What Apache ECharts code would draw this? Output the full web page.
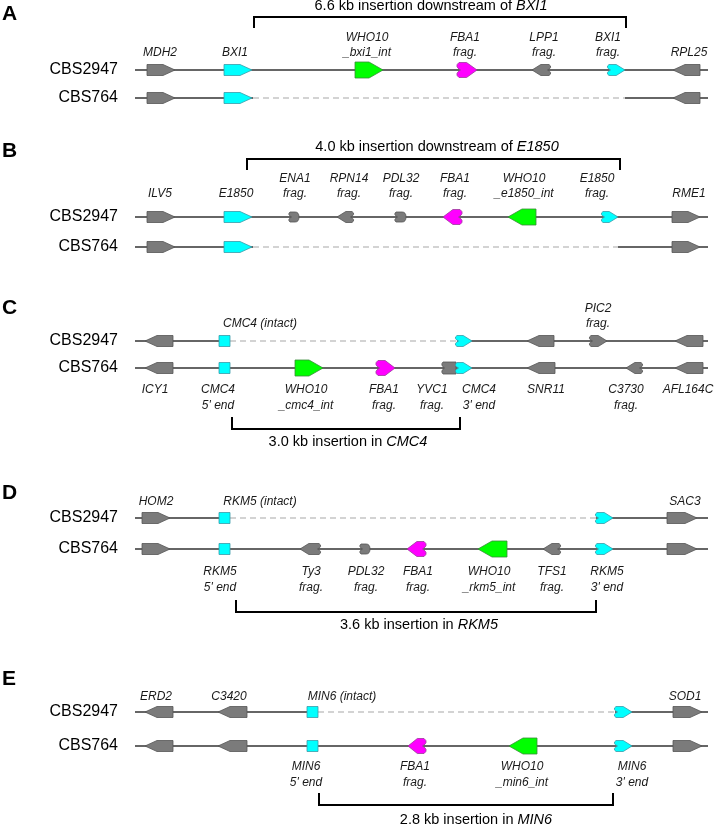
<!DOCTYPE html>
<html><head><meta charset="utf-8">
<script src="https://cdn.jsdelivr.net/npm/echarts@6/dist/echarts.min.js"></script>
<style>html,body{margin:0;padding:0;background:#fff}#c{width:715px;height:825px}</style>
</head><body><div id="c"></div>
<script>
// ---------------- DATA ----------------
const strains = ['CBS2947', 'CBS764'];
const panelLetters = ['A', 'B', 'C', 'D', 'E'];

// backbone segments: [row, start, end, dashed(1)/solid(0)]
const tracksA = [[0,135,708,0],[1,135,253,0],[1,253,625,1],[1,625,708,0]];
const tracksB = [[0,135,708,0],[1,135,253,0],[1,253,618,1],[1,618,708,0]];
const tracksC = [[0,135,219,0],[0,230,457,1],[0,457,708,0],[1,135,708,0]];
const tracksD = [[0,135,219,0],[0,230,596,1],[0,596,708,0],[1,135,708,0]];
const tracksE = [[0,135,307,0],[0,318,615,1],[0,615,708,0],[1,135,708,0]];

// features: [row, start, end, strand, kind, colour]
const genesA = [
  [0,147,175,1,'gene','grey'],[0,224,252,1,'gene','cyan'],[0,355,383,1,'int','green'],
  [0,458,477,1,'frag','magenta'],[0,532,550,-1,'frag','grey'],[0,608,625,1,'frag','cyan'],
  [0,673,700,-1,'gene','grey'],
  [1,147,175,1,'gene','grey'],[1,224,252,1,'gene','cyan'],[1,673,700,-1,'gene','grey']
];
const genesB = [
  [0,147,175,1,'gene','grey'],[0,224,252,1,'gene','cyan'],[0,289,299,1,'blob','grey'],
  [0,337,353,-1,'frag','grey'],[0,395,406,1,'blob','grey'],[0,443,461,-1,'frag','magenta'],
  [0,508,536,-1,'int','green'],[0,602,618,1,'frag','cyan'],[0,672,700,1,'gene','grey'],
  [1,147,175,1,'gene','grey'],[1,224,252,1,'gene','cyan'],[1,672,700,1,'gene','grey']
];
const genesC = [
  [0,145,173,-1,'gene','grey'],[0,219,230,0,'stub','cyan'],[0,456,472,1,'frag','cyan'],
  [0,527,554,-1,'gene','grey'],[0,590,607,1,'frag','grey'],[0,675,703,-1,'gene','grey'],
  [1,145,173,-1,'gene','grey'],[1,219,230,0,'stub','cyan'],[1,295,323,1,'int','green'],
  [1,377,395,1,'frag','magenta'],[1,442,456,0,'blunt','grey'],[1,456,472,1,'frag','cyan'],
  [1,527,555,-1,'gene','grey'],[1,626,642,-1,'frag','grey'],[1,675,703,-1,'gene','grey']
];
const genesD = [
  [0,142,170,1,'gene','grey'],[0,219,230,0,'stub','cyan'],[0,596,613,1,'frag','cyan'],
  [0,667,697,1,'gene','grey'],
  [1,142,170,1,'gene','grey'],[1,219,230,0,'stub','cyan'],[1,300,320,-1,'frag','grey'],
  [1,360,370,1,'blob','grey'],[1,407,425,-1,'frag','magenta'],[1,478,507,-1,'int','green'],
  [1,543,560,-1,'frag','grey'],[1,596,613,1,'frag','cyan'],[1,667,697,1,'gene','grey']
];
const genesE = [
  [0,145,173,-1,'gene','grey'],[0,218,247,-1,'gene','grey'],[0,307,318,0,'stub','cyan'],
  [0,615,632,1,'frag','cyan'],[0,673,702,1,'gene','grey'],
  [1,145,173,-1,'gene','grey'],[1,218,247,-1,'gene','grey'],[1,307,318,0,'stub','cyan'],
  [1,408,425,-1,'frag','magenta'],[1,509,537,-1,'int','green'],[1,615,632,1,'frag','cyan'],
  [1,673,702,1,'gene','grey']
];

// labels: [text, centre, side ('a' above CBS2947 / 'b' below CBS764)]
const labelsA = [['MDH2',160,'a'],['BXI1',235,'a'],['WHO10\n_bxi1_int',367,'a'],['FBA1\nfrag.',465,'a'],
  ['LPP1\nfrag.',544,'a'],['BXI1\nfrag.',608,'a'],['RPL25',689,'a']];
const labelsB = [['ILV5',160,'a'],['E1850',236,'a'],['ENA1\nfrag.',295,'a'],['RPN14\nfrag.',349,'a'],
  ['PDL32\nfrag.',401,'a'],['FBA1\nfrag.',455,'a'],['WHO10\n_e1850_int',524,'a'],['E1850\nfrag.',597,'a'],['RME1',689,'a']];
const labelsC = [['CMC4 (intact)',260,'a'],['PIC2\nfrag.',598,'a'],['ICY1',155,'b'],["CMC4\n5' end",218,'b'],
  ['WHO10\n_cmc4_int',306,'b'],['FBA1\nfrag.',384,'b'],['YVC1\nfrag.',432,'b'],["CMC4\n3' end",479,'b'],
  ['SNR11',546,'b'],['C3730\nfrag.',626,'b'],['AFL164C',688,'b']];
const labelsD = [['HOM2',156,'a'],['RKM5 (intact)',260,'a'],['SAC3',685,'a'],["RKM5\n5' end",220,'b'],
  ['Ty3\nfrag.',311,'b'],['PDL32\nfrag.',366,'b'],['FBA1\nfrag.',418,'b'],['WHO10\n_rkm5_int',489,'b'],
  ['TFS1\nfrag.',552,'b'],["RKM5\n3' end",607,'b']];
const labelsE = [['ERD2',156,'a'],['C3420',229,'a'],['MIN6 (intact)',342,'a'],['SOD1',685,'a'],
  ["MIN6\n5' end",306,'b'],['FBA1\nfrag.',415,'b'],['WHO10\n_min6_int',522,'b'],["MIN6\n3' end",632,'b']];

// insertions
const insertFrom = [254, 247, 232, 236, 319];
const insertTo   = [626, 620, 460, 596, 613];
const insertTextAt = [431, 437, 348, 419, 476];
const insertText = ['6.6 kb insertion downstream of ', '4.0 kb insertion downstream of ',
  '3.0 kb insertion in ', '3.6 kb insertion in ', '2.8 kb insertion in '];
const insertGene = ['BXI1', 'E1850', 'CMC4', 'RKM5', 'MIN6'];

// ---------------- LAYOUT / STYLE ----------------
const FONT = '"Liberation Sans", Arial, Helvetica, sans-serif';
const layout = [
  {r0:70,  r1:98,  letterTop:4,   above:17, below:22, br:{side:-1, near:42, far:53, text:64}},
  {r0:217, r1:247, letterTop:141, above:23, below:22, br:{side:-1, near:47, far:58, text:70}},
  {r0:341, r1:368, letterTop:298, above:17, below:22, br:{side:1,  near:49, far:61, text:74}},
  {r0:518, r1:549, letterTop:483, above:16, below:23, br:{side:1,  near:51, far:63, text:76}},
  {r0:712, r1:746, letterTop:669, above:15, below:21, br:{side:1,  near:47, far:59, text:74}}
];
const LH = 15.5;
const FILL = {grey:'#7b7b7b', cyan:'#00ffff', green:'#00ff00', magenta:'#ff00ff'};
const EDGE = {grey:'#555555', cyan:'#3a9aa8', green:'#3a8a3a', magenta:'#9a3a9a'};

const tracks = [tracksA, tracksB, tracksC, tracksD, tracksE];
const genes = [genesA, genesB, genesC, genesD, genesE];
const labels = [labelsA, labelsB, labelsC, labelsD, labelsE];

function genePath(kind, colour, x0, x1, yc, dir) {
  const L = x1 - x0;
  const X = u => dir < 0 ? x1 - u : x0 + u;
  const P = (u, v) => X(u).toFixed(2) + ' ' + (yc + v).toFixed(2);
  let h, hd;
  switch (kind) {
    case 'gene':
      h = 11; hd = Math.min(12, L * 0.45);
      return `M${P(0,-h/2)} L${P(L-hd,-h/2)} L${P(L,0)} L${P(L-hd,h/2)} L${P(0,h/2)} Z`;
    case 'int':
      h = 16; hd = 14;
      return `M${P(0,-h/2)} L${P(L-hd,-h/2)} L${P(L,0)} L${P(L-hd,h/2)} L${P(0,h/2)} Z`;
    case 'stub':
      h = 11;
      return `M${P(0,-h/2)} L${P(L,-h/2)} L${P(L,h/2)} L${P(0,h/2)} Z`;
    case 'frag': {
      h = colour === 'magenta' ? 15 : 11;
      hd = Math.min(L * 0.55, h * 0.8);
      const lob = colour === 'magenta' ? 4 : 3;
      return `M${P(1,-h/2)} L${P(L-hd,-h/2)} L${P(L,0)} L${P(L-hd,h/2)} L${P(1,h/2)} ` +
             `Q${P(-lob,h/4)} ${P(2.5,0)} Q${P(-lob,-h/4)} ${P(1,-h/2)} Z`;
    }
    case 'blob':
      h = 10;
      return `M${P(1,-h/2)} L${P(L-4,-h/2)} Q${P(L,-h/2)} ${P(L,0)} Q${P(L,h/2)} ${P(L-4,h/2)} L${P(1,h/2)} ` +
             `Q${P(-2,h/4)} ${P(2.5,0)} Q${P(-2,-h/4)} ${P(1,-h/2)} Z`;
    case 'blunt':
      h = 12;
      return `M${P(1,-h/2)} L${P(L,-h/2)} L${P(L,h/2)} L${P(1,h/2)} ` +
             `Q${P(-2,h/4)} ${P(2.5,0)} Q${P(-2,-h/4)} ${P(1,-h/2)} Z`;
  }
}

function renderTrack(params, api) {
  const a = api.coord([api.value(0), api.value(1)]);
  const b = api.coord([api.value(2), api.value(1)]);
  const dashed = api.value(3) === 1;
  return {type:'line', shape:{x1:a[0], y1:a[1], x2:b[0], y2:b[1]},
    style:{stroke: dashed ? '#a8a8a8' : '#333', lineWidth: dashed ? 1.2 : 1.3, lineDash: dashed ? [6,4] : null, fill:'none'}};
}
function makeGeneRender(list) {
  return function (params, api) {
    const g = list[params.dataIndex];
    const a = api.coord([api.value(0), api.value(1)]);
    const b = api.coord([api.value(2), api.value(1)]);
    return {type:'path', shape:{pathData: genePath(g[4], g[5], a[0], b[0], a[1], api.value(3))},
      style:{fill: FILL[g[5]], stroke: EDGE[g[5]], lineWidth: 0.8}};
  };
}
function makeLabelRender(list, lay) {
  return function (params, api) {
    const l = list[params.dataIndex];
    const below = l[2] === 'b';
    const p = api.coord([api.value(0), api.value(1)]);
    const lines = l[0].split('\n');
    const n = lines.length;
    return {type:'group', children: lines.map((t, k) => ({
      type:'text',
      style:{text:t, x:p[0], y: below ? p[1] + lay.below + k * LH : p[1] - lay.above - (n - 1 - k) * LH,
        align:'center', verticalAlign:'middle', fontSize:12, fontStyle:'italic', fontFamily:FONT, fill:'#1a1a1a'}
    }))};
  };
}
function makeBracketRender(i, lay) {
  return function (params, api) {
    const row = api.value(1);
    const a = api.coord([api.value(0), row]);
    const b = api.coord([api.value(2), row]);
    const t = api.coord([api.value(3), row]);
    const s = lay.br.side;
    const yN = a[1] + s * lay.br.near, yF = a[1] + s * lay.br.far, yT = a[1] + s * lay.br.text;
    return {type:'group', children:[
      {type:'polyline', shape:{points:[[a[0], yN], [a[0], yF], [b[0], yF], [b[0], yN]]},
        style:{stroke:'#000', lineWidth:2, fill:'none'}},
      {type:'text', style:{
        text:'{n|' + insertText[i] + '}{g|' + insertGene[i] + '}',
        rich:{n:{fontSize:14.5, fontFamily:FONT, fill:'#000'},
              g:{fontSize:14.5, fontFamily:FONT, fontStyle:'italic', fill:'#000'}},
        x:t[0], y:yT, align:'center', verticalAlign:'middle', fill:'#000', fontSize:14.5, fontFamily:FONT}}
    ]};
  };
}

const series = [];
layout.forEach((lay, i) => {
  const axes = {xAxisIndex:i, yAxisIndex:i};
  series.push(Object.assign({type:'custom', z:1, silent:true,
    data: tracks[i].map(s => [s[1], s[0], s[2], s[3]]), renderItem: renderTrack}, axes));
  series.push(Object.assign({type:'custom', z:3, silent:true,
    data: genes[i].map(g => [g[1], g[0], g[2], g[3]]), renderItem: makeGeneRender(genes[i])}, axes));
  series.push(Object.assign({type:'custom', z:4, silent:true,
    data: labels[i].map(l => [l[1], l[2] === 'b' ? 1 : 0]), renderItem: makeLabelRender(labels[i], lay)}, axes));
  series.push(Object.assign({type:'custom', z:4, silent:true,
    data: [[insertFrom[i], lay.br.side < 0 ? 0 : 1, insertTo[i], insertTextAt[i]]], renderItem: makeBracketRender(i, lay)}, axes));
});

const option = {
  animation: false,
  backgroundColor: '#fff',
  title: panelLetters.map((t, i) => ({text:t, left:2, top:layout[i].letterTop, padding:0,
    textStyle:{fontSize:21, fontWeight:'bold', fontFamily:FONT, color:'#000'}})),
  grid: layout.map(l => ({left:135, right:7, top:l.r0 - (l.r1 - l.r0) / 2, height:2 * (l.r1 - l.r0),
    containLabel:false, outerBoundsMode:'none'})),
  xAxis: layout.map((l, i) => ({type:'value', gridIndex:i, min:135, max:708, show:false})),
  yAxis: layout.map((l, i) => ({type:'category', gridIndex:i, data:strains, inverse:true,
    axisLine:{show:false}, axisTick:{show:false}, splitLine:{show:false},
    axisLabel:{fontSize:16, color:'#000', margin:17, fontFamily:FONT}})),
  series: series
};
const chart = echarts.init(document.getElementById('c'), null, {renderer:'canvas'});
chart.setOption(option);
</script></body></html>
